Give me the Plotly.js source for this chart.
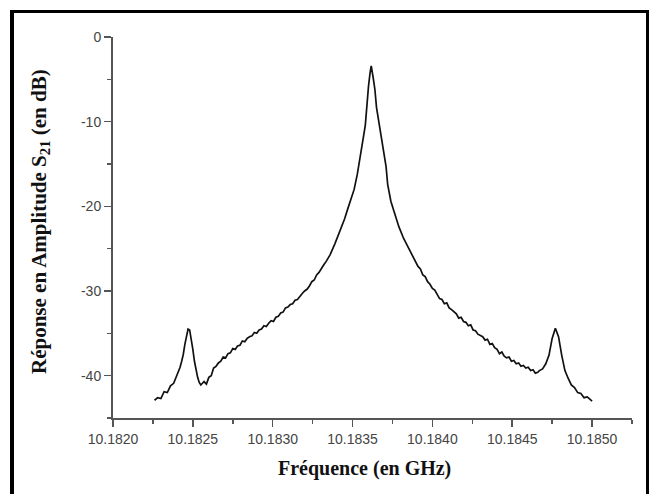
<!DOCTYPE html>
<html>
<head>
<meta charset="utf-8">
<script src="https://cdn.plot.ly/plotly-3.0.1.min.js"></script>
<style>
  html, body { margin: 0; padding: 0; background: #fff; }
  #wrap { position: relative; width: 654px; height: 494px; overflow: hidden; }
  #chart { position: absolute; left: 0; top: 0; width: 654px; height: 494px; }
  #frame { position: absolute; left: 10px; top: 10px; width: 632px; height: 520px;
           border-top: 3px solid #000; border-left: 4px solid #000; border-right: 3px solid #000;
           pointer-events: none; }
</style>
</head>
<body>
<div id="wrap">
  <div id="chart"></div>
  <div id="frame"></div>
</div>
<script>
// Frequency (GHz)
const freq = [
  10.18226, 10.18228, 10.18230, 10.18232, 10.18234, 10.18236, 10.18238, 10.18240,
  10.18242, 10.18243, 10.18244, 10.18245, 10.18246, 10.18247, 10.18248, 10.18249,
  10.18250, 10.18251, 10.18252, 10.18253, 10.18254, 10.18255, 10.18256,
  10.182570, 10.182585, 10.182600, 10.182615, 10.182630, 10.182645, 10.182660, 10.182675,
  10.182690, 10.182705, 10.182720, 10.182735, 10.182750, 10.182765, 10.182780, 10.182795,
  10.182810, 10.182825, 10.182840, 10.182855, 10.182870, 10.182885, 10.182900, 10.182915,
  10.182930, 10.182945, 10.182960, 10.182975, 10.182990, 10.183005, 10.183020, 10.183035,
  10.183050, 10.183065, 10.183080, 10.183095, 10.183110, 10.183125, 10.183140, 10.183155,
  10.183170, 10.183185, 10.183200, 10.183215, 10.183230, 10.183245, 10.183260, 10.183275,
  10.183290, 10.183305, 10.183320, 10.183335,
  10.18336, 10.18339, 10.18342, 10.18345, 10.18347, 10.18349, 10.18351, 10.18353,
  10.18355, 10.18357, 10.18358, 10.18359, 10.18360, 10.18361, 10.183617, 10.18363,
  10.18364, 10.18365, 10.18366, 10.18367, 10.18369, 10.18371, 10.18372, 10.18374,
  10.18376, 10.18379, 10.18382, 10.18385,
  10.183865, 10.183880, 10.183895, 10.183910, 10.183925, 10.183940, 10.183955, 10.183970,
  10.183985, 10.184000, 10.184015, 10.184030, 10.184045, 10.184060, 10.184075, 10.184090,
  10.184105, 10.184120, 10.184135, 10.184150, 10.184165, 10.184180, 10.184195, 10.184210,
  10.184225, 10.184240, 10.184255, 10.184270, 10.184285, 10.184300, 10.184315, 10.184330,
  10.184345, 10.184360, 10.184375, 10.184390, 10.184405, 10.184420, 10.184435, 10.184450,
  10.184465, 10.184480, 10.184495, 10.184510, 10.184525, 10.184540, 10.184555, 10.184570,
  10.184585, 10.184600, 10.184615, 10.184630, 10.184645, 10.184660,
  10.18467, 10.18469, 10.18471, 10.18473, 10.18475, 10.18477, 10.18479, 10.18481,
  10.18483, 10.18485, 10.18487, 10.18489, 10.18491, 10.18493, 10.18495, 10.18497,
  10.18500
];
// Réponse en amplitude S21 (dB)
const s21 = [
  -42.9, -42.6, -42.7, -41.9, -42.0, -41.2, -40.9, -40.0,
  -39.0, -38.3, -37.5, -36.3, -35.2, -34.5, -34.6, -35.6,
  -36.9, -38.3, -39.4, -40.2, -40.8, -41.1, -40.9,
  -40.7, -41.0, -40.2, -40.0, -39.1, -38.9, -38.5, -38.3,
  -37.8, -37.9, -37.4, -37.3, -36.8, -36.9, -36.5, -36.4,
  -35.9, -36.0, -35.6, -35.4, -35.3, -34.9, -35.0, -34.6,
  -34.5, -34.1, -34.2, -33.8, -33.5, -33.6, -33.1, -33.0,
  -32.6, -32.5, -32.0, -31.9, -31.6, -31.5, -31.1, -31.0,
  -30.6, -30.3, -30.0, -29.8, -29.4, -28.9, -28.7, -28.1,
  -27.8, -27.3, -26.9, -26.5,
  -25.7, -24.4, -23.0, -21.5, -20.3, -19.1, -18.0, -16.2,
  -14.1, -11.6, -10.4, -7.6, -5.8, -4.2, -3.4, -4.9,
  -6.2, -8.3, -9.5, -10.6, -13.1, -15.3, -17.4, -19.4,
  -20.6, -22.4, -23.8, -24.9,
  -25.4, -26.0, -26.4, -27.1, -27.4, -28.1, -28.3, -28.9,
  -29.2, -29.7, -29.9, -30.4, -30.9, -31.0, -31.5, -31.4,
  -32.0, -32.2, -32.4, -32.7, -33.2, -33.1, -33.6, -33.7,
  -34.1, -34.0, -34.6, -34.7, -35.1, -35.3, -35.4, -35.8,
  -35.7, -36.3, -36.2, -36.7, -36.9, -37.4, -37.2, -37.7,
  -37.9, -37.8, -38.3, -38.2, -38.6, -38.5, -38.9, -38.8,
  -39.1, -39.0, -39.4, -39.3, -39.7, -39.6,
  -39.4, -39.2, -38.6, -37.6, -35.6, -34.4, -35.4, -37.6,
  -39.4, -40.3, -41.1, -41.4, -42.0, -42.1, -42.6, -42.5,
  -43.0
];
const xTicks = [10.1820, 10.1825, 10.1830, 10.1835, 10.1840, 10.1845, 10.1850];
const xTickText = ['10.1820', '10.1825', '10.1830', '10.1835', '10.1840', '10.1845', '10.1850'];
const yTicks = [0, -10, -20, -30, -40];
const yTickText = ['0', '-10', '-20', '-30', '-40'];
const xTitle = '<b>Fréquence (en GHz)</b>';
const yTitle = '<b>Réponse en Amplitude S<sub>21</sub> (en dB)</b>';

const trace = {
  x: freq, y: s21, type: 'scatter', mode: 'lines',
  line: { color: '#111', width: 1.7 }, hoverinfo: 'x+y'
};

const tickFont = { family: 'Arial, "Liberation Sans", sans-serif', size: 14, color: '#444' };
const yTitleFont = { family: '"Times New Roman", "Liberation Serif", serif', size: 21, color: '#111' };
const xTitleFont = { family: '"Times New Roman", "Liberation Serif", serif', size: 20, color: '#111' };

const layout = {
  width: 654, height: 494,
  margin: { l: 113, r: 22, t: 37, b: 76 },
  paper_bgcolor: '#fff', plot_bgcolor: '#fff',
  showlegend: false,
  xaxis: {
    range: [10.1820, 10.18525],
    tickmode: 'array', tickvals: xTicks, ticktext: xTickText,
    ticks: 'outside', ticklen: 7, tickwidth: 1.5, tickcolor: '#555',
    minor: { dtick: 0.00025, tick0: 10.1820, ticks: 'outside', ticklen: 4, tickwidth: 1.5, tickcolor: '#555', showgrid: false },
    showline: true, linecolor: '#555', linewidth: 2,
    showgrid: false, zeroline: false,
    tickfont: tickFont
  },
  yaxis: {
    range: [-45, 0],
    tickmode: 'array', tickvals: yTicks, ticktext: yTickText,
    ticks: 'outside', ticklen: 7, tickwidth: 1.5, tickcolor: '#555',
    minor: { dtick: 5, tick0: 0, ticks: 'outside', ticklen: 4, tickwidth: 1.5, tickcolor: '#555', showgrid: false },
    showline: true, linecolor: '#555', linewidth: 2,
    showgrid: false, zeroline: false,
    tickfont: tickFont
  },
  annotations: [
    { text: xTitle, font: xTitleFont, showarrow: false,
      xref: 'paper', yref: 'paper', x: 0.4855, y: 0, xanchor: 'center', yanchor: 'middle', yshift: -50 },
    { text: yTitle, font: yTitleFont, showarrow: false, textangle: -90,
      xref: 'paper', yref: 'paper', x: 0, y: 0.5144, xanchor: 'center', yanchor: 'middle', xshift: -73 }
  ]
};

Plotly.newPlot('chart', [trace], layout, { displayModeBar: false, staticPlot: true });
</script>
</body>
</html>
